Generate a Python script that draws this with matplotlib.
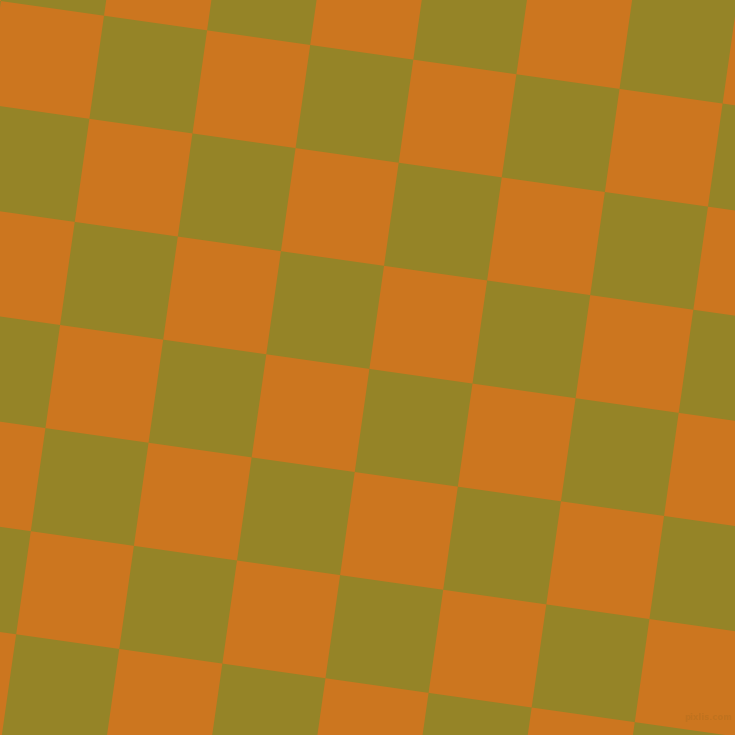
import numpy as np
import matplotlib.pyplot as plt
from matplotlib.patches import Polygon

# checkerboard parameters
colours = ['#958427', '#CC761F']   # olive, orange
origin = (104.0, 15.7)             # one grid corner, pixels
step = (103.1, 14.64)              # one cell along the tilted rows
watermark = 'pixlis.com'

fig = plt.figure(figsize=(7.35, 7.35), dpi=100)
fig.patch.set_facecolor(colours[0])
ax = fig.add_axes([0, 0, 1, 1])
ax.set_xlim(0, 735)
ax.set_ylim(735, 0)
ax.axis('off')

u = np.array(step)
v = np.array([-step[1], step[0]])
o = np.array(origin)

for i in range(-3, 10):
    for j in range(-3, 10):
        if (i + j) % 2 == 0:
            continue
        p = o + i * u + j * v
        pts = [p, p + u, p + u + v, p + v]
        ax.add_patch(Polygon(pts, closed=True, facecolor=colours[1],
                             edgecolor='none', linewidth=0))

ax.text(708, 717, watermark, fontsize=6, color='#b8701e', alpha=0.6,
        ha='center', va='center', fontweight='bold')

fig.savefig('out.png', dpi=100, facecolor=fig.get_facecolor())
